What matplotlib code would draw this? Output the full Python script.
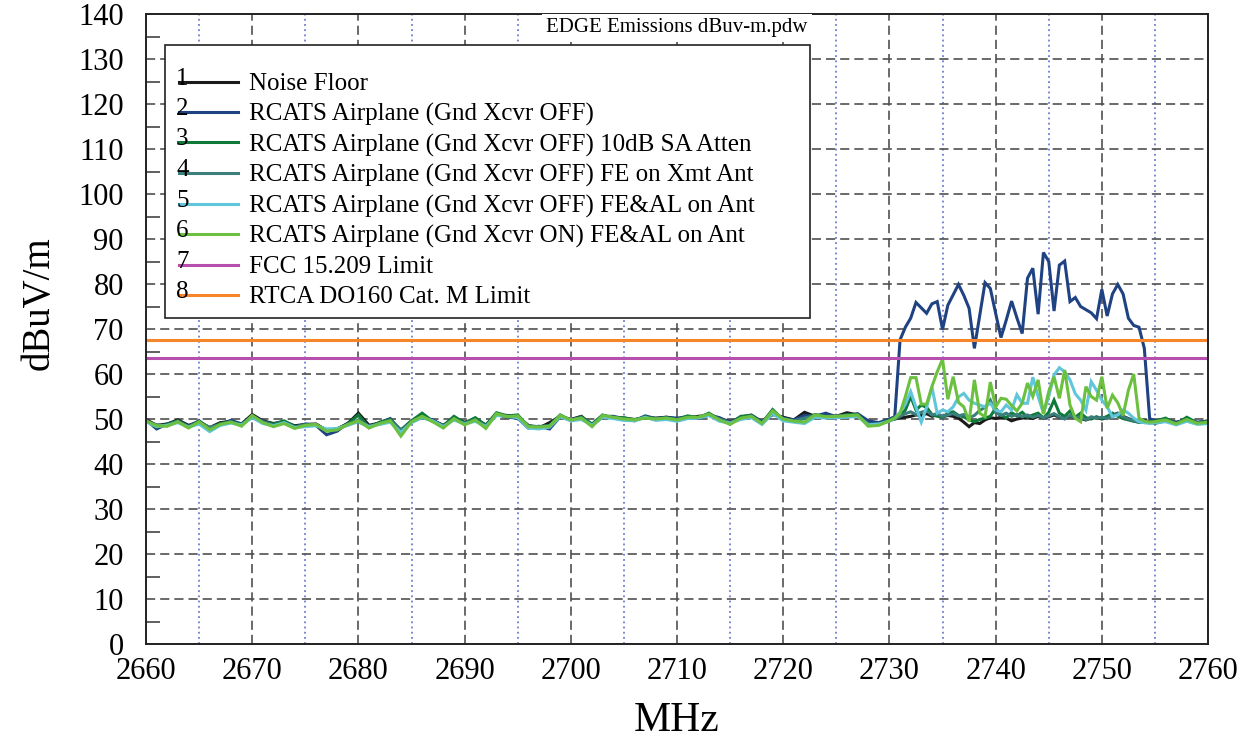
import numpy as np
import matplotlib
matplotlib.use("Agg")
import matplotlib.pyplot as plt
from matplotlib.patches import Rectangle

plt.rcParams['font.family'] = ['Liberation Serif', 'DejaVu Serif']

# sweep frequencies (MHz): 1 MHz steps outside the band, 0.5 MHz across it
freqs = np.concatenate([np.arange(2660, 2730, 1.0),
                        np.arange(2730, 2755.5, 0.5),
                        np.arange(2756, 2761, 1.0)])

# 1 Noise Floor
noise_floor = [
    49.9, 48.6, 48.9, 49.8, 48.6, 49.3, 48.1, 49.2, 49.5, 48.9,
    51.0, 49.6, 49.0, 49.4, 48.5, 48.8, 48.9, 47.5, 47.8, 49.0,
    51.3, 48.6, 49.1, 49.8, 47.4, 49.5, 50.4, 49.7, 48.6, 50.2,
    49.3, 49.9, 48.7, 50.9, 50.8, 50.4, 48.6, 48.0, 49.2, 50.6,
    49.9, 50.6, 48.6, 50.5, 50.3, 50.2, 49.9, 50.3, 50.2, 50.4,
    50.0, 50.3, 50.6, 50.8, 50.1, 49.4, 50.2, 50.7, 49.3, 51.0,
    50.4, 49.8, 51.5, 50.6, 50.8, 50.6, 51.4, 50.9, 49.2, 49.0,
    # 2730 - 2755 (0.5 MHz)
    49.8, 50.0, 50.3, 50.4, 50.6, 50.9, 50.8, 51.2, 50.6, 50.9,
    50.5, 50.8, 50.6, 50.2, 49.3, 48.3, 49.2, 49.0, 49.8, 50.3,
    50.1, 50.4, 50.2, 49.6, 50.0, 50.2, 50.4, 50.1, 50.6, 50.3,
    50.5, 50.9, 50.4, 50.1, 50.6, 50.3, 50.1, 49.8, 50.2, 50.4,
    50.0, 50.3, 50.8, 51.3, 50.6, 50.1, 49.6, 49.3, 49.7, 49.4,
    49.6,
    49.8, 49.3, 49.7, 49.2, 49.6]

# 2 RCATS Airplane (Gnd Xcvr OFF)
xcvr_off = [
    49.8, 47.8, 48.9, 49.5, 48.4, 49.6, 47.9, 48.9, 49.7, 48.9,
    50.6, 49.5, 48.8, 49.4, 48.2, 48.9, 48.6, 46.5, 47.3, 49.1,
    49.4, 48.3, 49.2, 50.1, 47.2, 49.6, 50.3, 49.8, 48.4, 50.0,
    49.0, 50.1, 48.5, 51.0, 50.4, 50.2, 48.0, 48.4, 47.8, 50.5,
    49.9, 50.4, 48.8, 50.6, 50.6, 50.1, 49.6, 50.7, 50.1, 50.4,
    50.2, 50.5, 50.1, 50.9, 50.3, 49.2, 50.4, 50.9, 49.4, 51.4,
    50.2, 49.8, 50.8, 50.6, 51.3, 50.5, 50.8, 51.2, 49.6, 49.2,
    50.0, 50.5, 67.6, 70.4, 72.4, 75.9, 74.7, 73.5, 75.6, 76.1,
    69.9, 75.3, 77.6, 79.9, 77.5, 74.6, 65.7, 73.0, 80.3, 79.0,
    73.5, 68.1, 72.0, 76.2, 72.5, 69.0, 81.3, 83.5, 73.3, 87.0,
    85.0, 74.0, 84.2, 85.1, 76.1, 77.0, 75.0, 74.3, 73.6, 72.3,
    78.8, 72.9, 77.8, 79.9, 77.8, 72.4, 70.8, 70.4, 65.7, 50.1,
    49.6,
    49.9, 49.2, 50.0, 49.3, 49.5]

# 3 RCATS Airplane (Gnd Xcvr OFF) 10dB SA Atten
sa_atten = [
    49.7, 48.2, 48.8, 49.6, 48.3, 49.5, 47.9, 49.0, 49.4, 48.8,
    50.5, 49.3, 48.9, 49.6, 48.3, 48.7, 48.6, 47.4, 47.8, 48.9,
    50.9, 48.1, 49.3, 49.9, 47.6, 49.6, 51.3, 49.5, 48.5, 50.6,
    49.1, 50.3, 48.6, 51.4, 50.7, 50.9, 48.4, 48.3, 48.6, 50.9,
    49.7, 50.5, 48.9, 50.9, 50.2, 50.3, 49.8, 50.5, 50.1, 50.3,
    49.9, 50.7, 50.3, 51.3, 49.9, 49.0, 50.6, 50.8, 49.1, 52.1,
    49.8, 49.6, 50.1, 51.0, 50.6, 50.5, 51.0, 51.0, 48.8, 48.9,
    49.8, 50.3, 50.8, 52.0, 55.0, 52.0, 53.1, 52.6, 51.0, 50.6,
    50.4, 51.3, 51.6, 50.8, 50.5, 49.8, 49.4, 49.9, 50.2, 50.6,
    52.4, 50.9, 50.3, 51.4, 50.7, 51.5, 50.4, 50.9, 51.3, 50.2,
    51.5, 54.2, 51.3, 50.6, 51.8, 50.4, 51.3, 50.3, 50.0, 50.5,
    50.1, 50.6, 51.3, 50.6, 50.1, 49.8, 49.5, 49.3, 49.6, 49.2,
    49.5,
    50.2, 48.9, 50.4, 49.1, 49.5]

# 4 RCATS Airplane (Gnd Xcvr OFF) FE on Xmt Ant
fe_xmt = [
    49.5, 48.7, 48.5, 49.5, 48.3, 49.2, 48.2, 48.7, 49.4, 48.6,
    50.6, 49.4, 48.6, 49.1, 48.2, 48.7, 48.7, 47.6, 47.7, 48.7,
    49.8, 48.4, 48.9, 49.7, 47.5, 49.3, 50.5, 49.5, 48.4, 50.0,
    49.0, 49.8, 48.4, 51.0, 50.5, 50.5, 48.5, 48.3, 48.5, 50.6,
    49.7, 50.3, 48.7, 50.6, 50.3, 50.0, 49.8, 50.3, 50.0, 50.2,
    49.9, 50.3, 50.3, 50.9, 50.0, 49.2, 50.1, 50.6, 49.2, 51.5,
    50.1, 49.6, 50.2, 50.7, 50.6, 50.6, 50.8, 50.8, 48.9, 48.8,
    49.6, 50.0, 50.6, 51.2, 51.6, 51.0, 51.5, 51.8, 50.9, 51.2,
    50.6, 50.9, 51.2, 50.7, 51.0, 50.3, 50.8, 51.9, 52.6, 54.2,
    51.4, 50.8, 51.3, 50.6, 51.0, 50.5, 50.9, 50.4, 50.8, 50.3,
    50.7, 51.2, 50.5, 50.0, 50.8, 50.2, 50.6, 49.8, 50.5, 50.2,
    50.4, 50.1, 50.6, 51.2, 50.5, 50.0, 49.6, 49.4, 49.2, 49.3,
    49.0,
    49.6, 49.0, 49.8, 49.1, 49.3]

# 5 RCATS Airplane (Gnd Xcvr OFF) FE&AL on Ant
feal_off = [
    49.4, 48.3, 48.6, 49.2, 48.2, 48.9, 47.2, 48.6, 49.1, 48.7,
    50.3, 49.0, 48.5, 49.2, 48.1, 48.3, 48.5, 47.8, 47.9, 48.6,
    49.4, 48.3, 48.8, 49.3, 47.0, 49.2, 50.3, 49.6, 48.3, 49.8,
    48.9, 49.5, 48.3, 50.8, 50.6, 50.3, 48.0, 47.8, 48.2, 50.5,
    49.6, 49.9, 48.6, 50.4, 50.1, 49.7, 49.6, 50.4, 49.7, 49.9,
    49.5, 50.1, 50.2, 50.8, 49.5, 49.1, 49.9, 50.3, 48.8, 51.2,
    49.6, 49.3, 49.0, 50.4, 50.2, 50.3, 50.4, 50.6, 48.7, 48.9,
    49.5, 50.2, 51.5, 53.3, 56.1, 52.6, 49.3, 52.6, 57.1, 51.3,
    52.0, 51.6, 52.7, 54.9, 55.7, 54.2, 53.5, 53.1, 52.7, 53.5,
    52.0, 51.6, 53.1, 52.0, 55.4, 53.5, 53.5, 59.3, 55.0, 51.3,
    55.0, 59.8, 61.4, 60.5, 58.7, 55.6, 54.2, 52.0, 58.3, 56.4,
    54.2, 52.7, 50.5, 50.9, 52.0, 51.3, 50.2, 49.4, 49.2, 49.0,
    49.2,
    49.4, 48.7, 49.5, 48.8, 49.0]

# 6 RCATS Airplane (Gnd Xcvr ON) FE&AL on Ant
feal_on = [
    49.6, 48.5, 48.4, 49.4, 48.0, 49.4, 47.6, 48.8, 49.3, 48.4,
    50.8, 49.2, 48.3, 49.0, 47.9, 48.6, 48.8, 47.3, 47.6, 48.8,
    49.6, 48.0, 49.0, 49.6, 46.2, 49.4, 50.6, 49.4, 48.0, 50.1,
    48.7, 49.8, 47.9, 51.2, 50.5, 50.7, 48.3, 48.2, 48.4, 50.8,
    49.8, 50.2, 48.3, 50.8, 50.4, 50.0, 49.8, 50.2, 50.0, 50.2,
    49.8, 50.4, 50.4, 51.1, 49.8, 48.8, 50.2, 50.6, 49.0, 51.8,
    50.0, 49.5, 49.3, 50.9, 50.5, 50.6, 50.7, 50.9, 48.4, 48.6,
    49.6, 50.2, 51.3, 55.0, 59.2, 59.2, 53.3, 53.3, 57.2, 60.5,
    63.3, 54.4, 59.4, 53.7, 52.7, 49.4, 58.7, 51.3, 50.5, 58.2,
    52.7, 54.6, 54.4, 53.0, 51.8, 53.5, 58.0, 55.0, 58.7, 51.1,
    56.1, 59.4, 54.6, 60.9, 53.1, 50.2, 49.4, 57.2, 55.0, 54.2,
    59.4, 52.4, 55.3, 53.6, 50.8, 56.4, 60.0, 50.2, 49.5, 49.3,
    49.4,
    49.8, 48.9, 49.9, 49.0, 49.3]

fcc_limit = 63.5     # 7 FCC 15.209 Limit
rtca_limit = 67.5    # 8 RTCA DO160 Cat. M Limit

labels = ["Noise Floor",
          "RCATS Airplane (Gnd Xcvr OFF)",
          "RCATS Airplane (Gnd Xcvr OFF) 10dB SA Atten",
          "RCATS Airplane (Gnd Xcvr OFF) FE on Xmt Ant",
          "RCATS Airplane (Gnd Xcvr OFF) FE&AL on Ant",
          "RCATS Airplane (Gnd Xcvr ON) FE&AL on Ant",
          "FCC 15.209 Limit",
          "RTCA DO160 Cat. M Limit"]
colors = ["#1a1a1a", "#1f4282", "#0e7a3a", "#3a7f7c",
          "#60c6dc", "#6cc040", "#b64fae", "#f7862a"]

fig = plt.figure(figsize=(12.52, 7.46), dpi=100)
ax = fig.add_axes([0.1166, 0.1367, 0.8483, 0.8445])

series = [noise_floor, xcvr_off, sa_atten, fe_xmt, feal_off, feal_on]
for vals, lab, col in zip(series, labels[:6], colors[:6]):
    ax.plot(freqs, vals, color=col, lw=2.2, label=lab, solid_joinstyle='miter')
ax.axhline(fcc_limit, color=colors[6], lw=2.2, label=labels[6])
ax.axhline(rtca_limit, color=colors[7], lw=2.2, label=labels[7])

ax.set_xlim(2660, 2760)
ax.set_ylim(0, 140)
ax.set_xticks(np.arange(2660, 2761, 10))
ax.set_xticks(np.arange(2665, 2760, 10), minor=True)
ax.set_yticks(np.arange(0, 141, 10))
ax.set_yticks(np.arange(5, 140, 10), minor=True)

ax.grid(which='major', linestyle=(0, (5.5, 3)), color='#505050', lw=1.2)
ax.grid(which='minor', axis='x', linestyle=(0, (1.2, 2.2)), color='#5566cc', lw=1.1)
ax.tick_params(which='major', length=0, labelsize=22)
ax.tick_params(axis='x', which='major', pad=9)
ax.tick_params(axis='y', which='major', pad=16)
ax.tick_params(axis='x', which='minor', length=0)
ax.tick_params(axis='y', which='minor', direction='in', length=10, width=1.2, color='#444444')
for s in ax.spines.values():
    s.set_linewidth(1.4)
    s.set_color('#222222')

ax.set_xlabel("MHz", fontsize=30)
ax.xaxis.set_label_coords(0.5, -0.092)
ax.set_ylabel("dBuV/m", fontsize=28)
ax.yaxis.set_label_coords(-0.083, 0.541)

ax.text(0.5, 0.978, "EDGE Emissions dBuv-m.pdw", transform=ax.transAxes,
        ha='center', va='center', fontsize=15, zorder=6,
        bbox=dict(facecolor='white', edgecolor='none', pad=3))

# legend frame drawn separately so the spacing can match
ax.add_patch(Rectangle((0.0179, 0.5175), 0.6073, 0.4333, transform=ax.transAxes,
                       facecolor='white', edgecolor='#222222', lw=1.2, zorder=4))
leg = ax.legend(loc='upper left', bbox_to_anchor=(0.0311, 0.9065), frameon=False,
                fontsize=18, borderpad=0, borderaxespad=0, labelspacing=0.3,
                handlelength=2.36, handletextpad=0.44)
leg.set_zorder(5)

fig.canvas.draw()
renderer = fig.canvas.get_renderer()
for i, ln in enumerate(leg.get_lines()):
    bb = ln.get_window_extent(renderer)
    xf, yf = fig.transFigure.inverted().transform((bb.x0 - 3, (bb.y0 + bb.y1) / 2 + 3))
    fig.text(xf, yf, str(i + 1), ha='left', va='center', fontsize=18, zorder=10)

fig.savefig("out.png", dpi=100)
